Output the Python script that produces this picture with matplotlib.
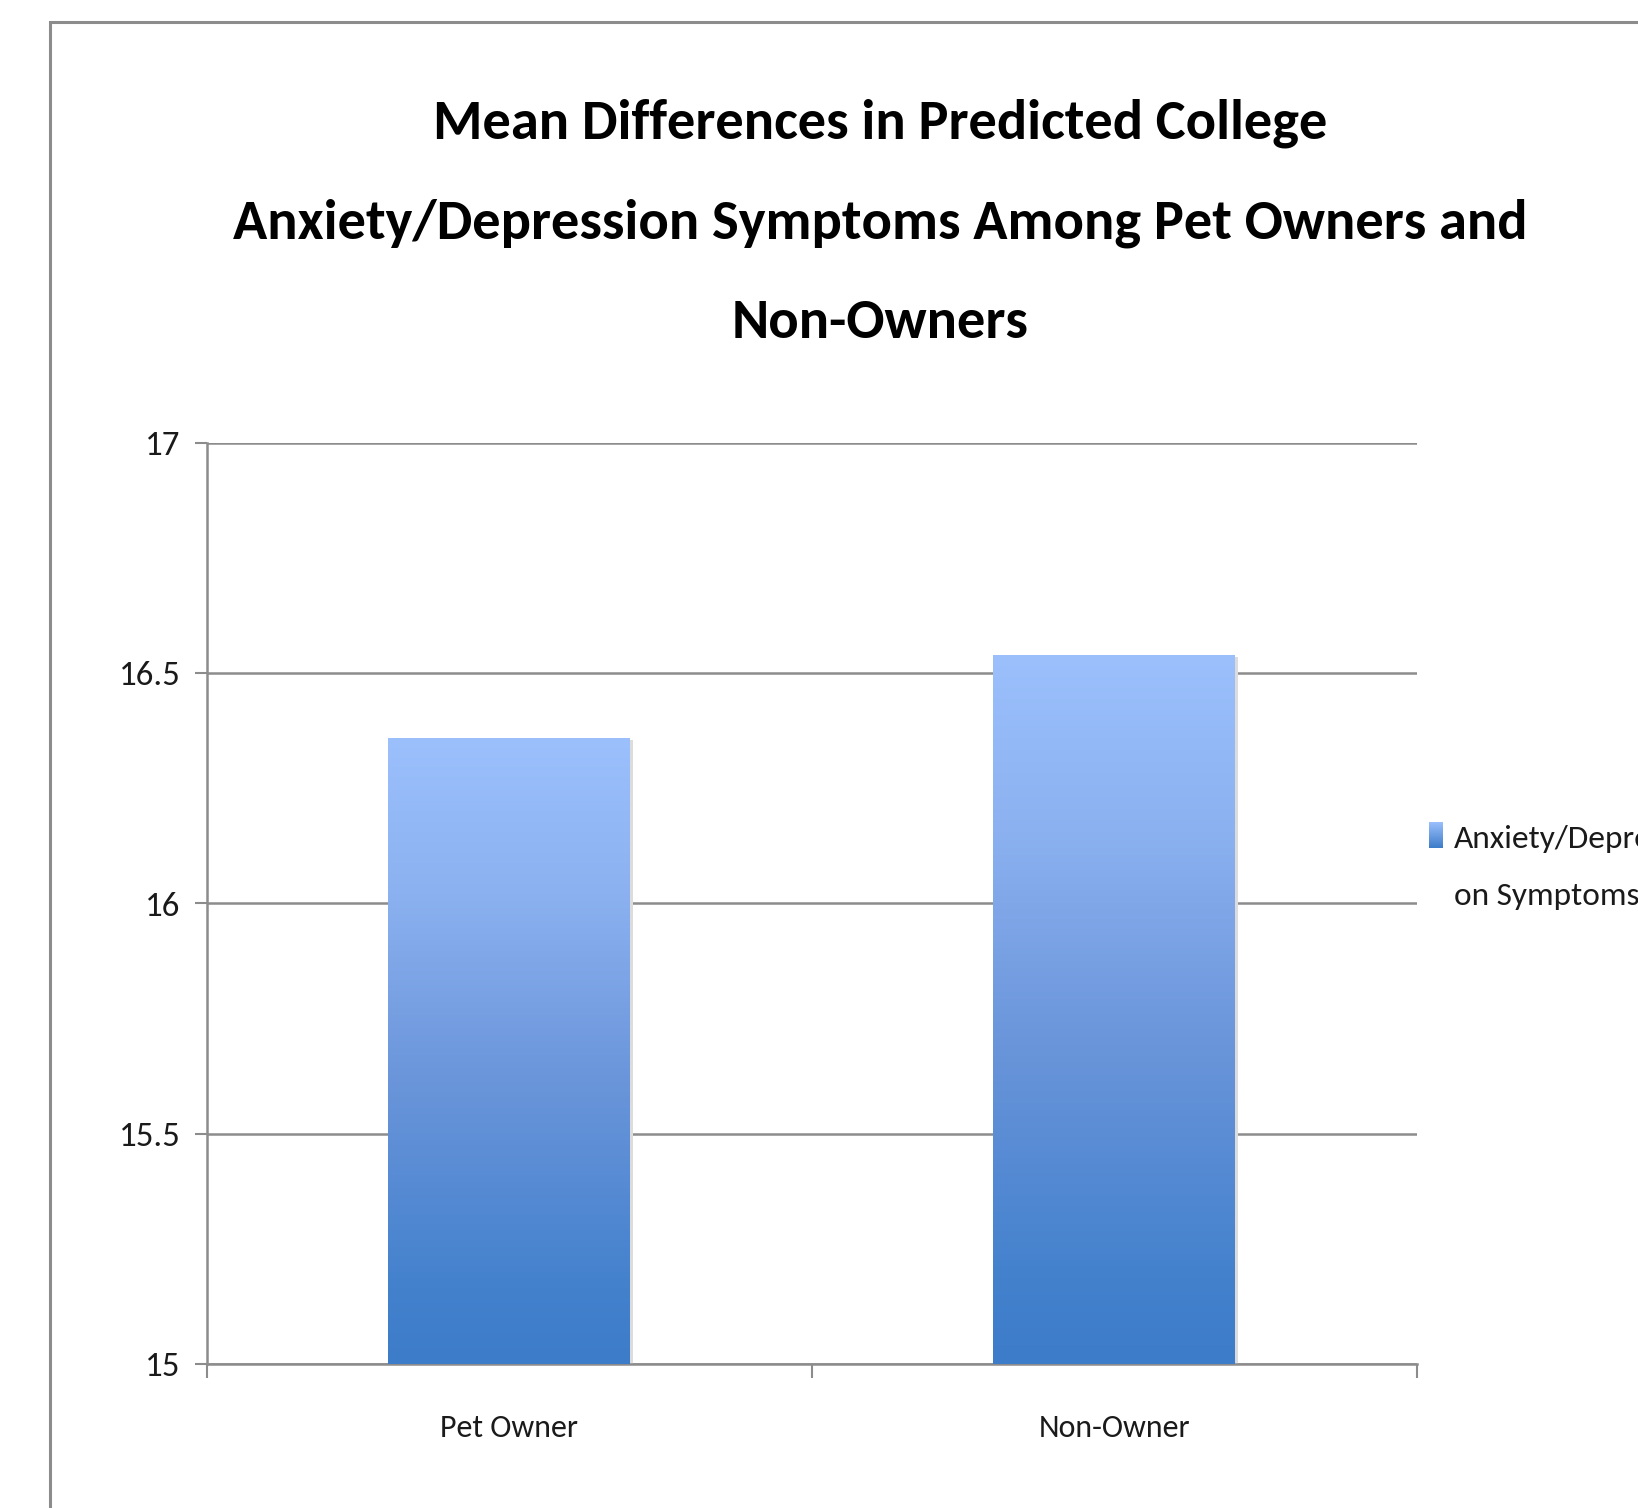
import matplotlib
matplotlib.use("Agg")
import matplotlib.pyplot as plt
import numpy as np
from matplotlib.patches import Rectangle
from matplotlib.colors import LinearSegmentedColormap
from matplotlib import font_manager

categories = ["Pet Owner", "Non-Owner"]
values = [16.36, 16.54]
yticks = [15, 15.5, 16, 16.5, 17]
ytick_labels = ["15", "15.5", "16", "16.5", "17"]
series_label_lines = ["Anxiety/Depressi", "on Symptoms"]
title_lines = ["Mean Differences in Predicted College",
               "Anxiety/Depression Symptoms Among Pet Owners and",
               "Non-Owners"]

names = {f.name for f in font_manager.fontManager.ttflist}
pref = ["Carlito", "Archivo Narrow", "Encode Sans Condensed", "Barlow Semi Condensed", "Roboto", "DejaVu Sans"]
FONT = [n for n in pref if n in names][:1] + ["DejaVu Sans"]

W, H = 1638, 1508
fig = plt.figure(figsize=(W / 100, H / 100), dpi=100)
fig.patch.set_facecolor("white")

fig.patches.append(Rectangle((50 / W, -0.05), 1.2, 1 - 22 / H + 0.05, transform=fig.transFigure,
                             fill=False, edgecolor="#8c8c8c", linewidth=2.2, zorder=0))

ax = fig.add_axes([207 / W, 1 - 1364 / H, (1416.5 - 207) / W, (1364 - 443) / H])
x = np.arange(len(categories))
bars = ax.bar(x, [v - 15 for v in values], bottom=15, width=0.4, color="#6a9be0", zorder=3)

cmap = LinearSegmentedColormap.from_list(
    "g", [(0.0, "#3d7cc9"), (0.12, "#4381cd"), (0.45, "#6a95da"), (0.75, "#8bb1f0"), (1.0, "#9bc0fc")])
grad = np.linspace(0, 1, 256).reshape(-1, 1)
for b in bars:
    x0, w = b.get_x(), b.get_width()
    y0, h = b.get_y(), b.get_height()
    im = ax.imshow(grad, cmap=cmap, origin="lower", aspect="auto",
                   extent=[x0, x0 + w, y0, y0 + h], zorder=4)
    im.set_clip_path(b)
    ax.add_patch(Rectangle((x0 + 0.005, y0), w, h - 0.005, facecolor="#dcdcdc",
                           edgecolor="none", zorder=2.5))

ax.set_xlim(-0.5, len(categories) - 0.5)
ax.set_ylim(15, 17)
ax.set_yticks(yticks)
ax.set_yticklabels(ytick_labels)
ax.yaxis.grid(True, color="#8c8c8c", linewidth=1.8, zorder=1)
ax.set_axisbelow(True)

ax.set_xticks([i - 0.5 for i in range(len(categories) + 1)])
ax.set_xticklabels([""] * (len(categories) + 1))
ax.set_xticks(x, minor=True)
ax.set_xticklabels(categories, minor=True)
ax.tick_params(axis="x", which="minor", length=0, pad=36, labelsize=23)
ax.tick_params(axis="x", which="major", length=10, width=1.5, color="#8c8c8c", direction="out")
ax.tick_params(axis="y", length=9, width=1.5, color="#8c8c8c", pad=10, labelsize=25)
for lbl in ax.get_xticklabels(minor=True) + ax.get_yticklabels():
    lbl.set_family(FONT)
    lbl.set_color("#1a1a1a")

for s in ["top", "right"]:
    ax.spines[s].set_visible(False)
for s in ["left", "bottom"]:
    ax.spines[s].set_color("#8c8c8c")
    ax.spines[s].set_linewidth(1.8)

# title, sized so the widest line spans ~1297 px as in the reference
ys = [139, 238, 338]
texts = []
for line, yy in zip(title_lines, ys):
    texts.append(fig.text(880 / W, 1 - yy / H, line, ha="center", va="baseline", fontsize=50,
                          fontweight="bold", family=FONT, color="black"))
r = fig.canvas.get_renderer()
wmax = max(t.get_window_extent(r).width for t in texts)
fs = 50 * 1297 / wmax
for t in texts:
    t.set_fontsize(fs)

# legend (key + wrapped label, cut off at the right edge as in the reference)
key_cmap = LinearSegmentedColormap.from_list("k", ["#3d7cc9", "#9bc0fc"])
key_ax = fig.add_axes([1429 / W, 1 - 848 / H, 14 / W, 26 / H])
key_ax.imshow(grad, cmap=key_cmap, origin="lower", aspect="auto")
key_ax.set_axis_off()
for txt, yy in zip(series_label_lines, [848, 905]):
    fig.text(1454 / W, 1 - yy / H, txt, ha="left", va="baseline", fontsize=24,
             family=FONT, color="#1a1a1a")

fig.savefig("out.png", dpi=100)
